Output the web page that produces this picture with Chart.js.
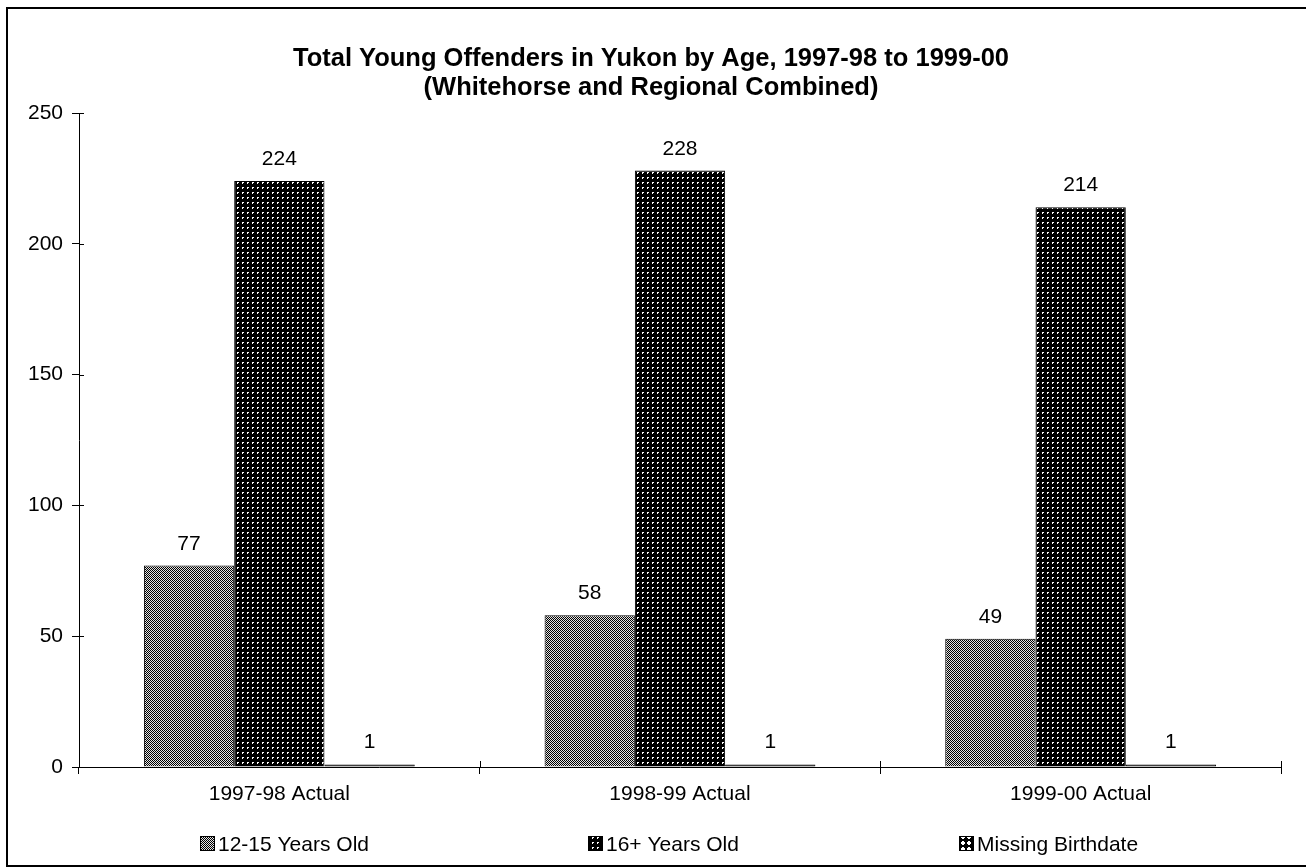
<!DOCTYPE html>
<html>
<head>
<meta charset="utf-8">
<script src="https://cdn.jsdelivr.net/npm/chart.js@4"></script>
<style>
html,body{margin:0;padding:0;background:#fff;}
canvas{display:block;}
</style>
</head>
<body>
<canvas id="c" width="1306" height="868"></canvas>
<script>
const categories = ['1997-98 Actual', '1998-99 Actual', '1999-00 Actual'];
const age12to15 = [77, 58, 49];
const age16plus = [224, 228, 214];
const missingBirthdate = [1, 1, 1];
const seriesNames = ['12-15 Years Old', '16+ Years Old', 'Missing Birthdate'];
const yTickValues = [0, 50, 100, 150, 200, 250];
const titleLines = ['Total Young Offenders in Yukon by Age, 1997-98 to 1999-00', '(Whitehorse and Regional Combined)'];

const FONT = "'Liberation Sans', Arial, sans-serif";

function makePattern(w, h, draw) {
  const c = document.createElement('canvas');
  c.width = w; c.height = h;
  const g = c.getContext('2d');
  draw(g);
  return document.getElementById('c').getContext('2d').createPattern(c, 'repeat');
}
const pat1 = makePattern(2, 2, g => {
  g.fillStyle = '#e4e4e4'; g.fillRect(0, 0, 2, 2);
  g.fillStyle = '#000'; g.fillRect(0, 0, 1, 1); g.fillRect(1, 1, 1, 1);
});
const pat2 = makePattern(5, 5, g => {
  g.fillStyle = '#000'; g.fillRect(0, 0, 5, 5);
  g.fillStyle = '#fff'; g.fillRect(2, 2, 2, 1); g.fillRect(2, 3, 1, 1);
});
const pat3 = makePattern(6, 6, g => {
  g.fillStyle = '#000'; g.fillRect(0, 0, 6, 6);
  g.fillStyle = '#fff'; g.fillRect(2, 1, 2, 4); g.fillRect(1, 2, 4, 2);
});
const legendPatterns = [pat1, pat2, pat3];
const barFills = [pat1, pat2, '#000'];

const framePlugin = {
  id: 'frame',
  afterDraw(chart) {
    const ctx = chart.ctx;
    ctx.save();
    ctx.strokeStyle = '#000';
    ctx.lineWidth = 2;
    ctx.beginPath();
    ctx.moveTo(1306, 8); ctx.lineTo(7, 8); ctx.lineTo(7, 866); ctx.lineTo(1306, 866);
    ctx.stroke();
    // title
    ctx.fillStyle = '#000';
    ctx.font = "bold 25.5px " + FONT;
    ctx.textAlign = 'center';
    ctx.textBaseline = 'alphabetic';
    const cx = 651;
    ctx.fillText(titleLines[0], cx, 66);
    ctx.fillText(titleLines[1], cx, 95);
    // data labels
    ctx.font = "21px " + FONT;
    chart.data.datasets.forEach((ds, i) => {
      const meta = chart.getDatasetMeta(i);
      meta.data.forEach((el, j) => {
        ctx.fillText(String(ds.data[j]), el.x, el.y - 16);
      });
    });
    // inward tick parts
    ctx.lineWidth = 1;
    const ys = chart.scales.y, xs = chart.scales.x;
    const step = xs.getPixelForTick(1) - xs.getPixelForTick(0);
    ctx.beginPath();
    yTickValues.forEach(v => {
      const py = Math.round(ys.getPixelForValue(v)) + 0.5;
      ctx.moveTo(chart.chartArea.left, py); ctx.lineTo(chart.chartArea.left + 5, py);
    });
    for (let k = 0; k <= categories.length; k++) {
      const px = Math.round(xs.getPixelForTick(0) - step / 2 + k * step) + 0.5;
      ctx.moveTo(px, chart.chartArea.bottom); ctx.lineTo(px, chart.chartArea.bottom - 6);
    }
    ctx.stroke();
    // legend
    const lx = [200, 588, 959];
    ctx.textAlign = 'left';
    ctx.font = "21px " + FONT;
    seriesNames.forEach((name, i) => {
      ctx.fillStyle = legendPatterns[i];
      ctx.fillRect(lx[i], 836, 15, 15);
      ctx.strokeStyle = '#000';
      ctx.strokeRect(lx[i] + 0.5, 836.5, 14, 14);
      ctx.fillStyle = '#000';
      ctx.fillText(name, lx[i] + 18, 851);
    });
    ctx.restore();
  }
};

const seriesData = [age12to15, age16plus, missingBirthdate];
new Chart(document.getElementById('c'), {
  type: 'bar',
  data: {
    labels: categories,
    datasets: seriesNames.map((n, i) => ({
      label: n,
      data: seriesData[i],
      backgroundColor: barFills[i],
      borderColor: '#000',
      borderWidth: 1,
      categoryPercentage: 0.676,
      barPercentage: 1.0
    }))
  },
  options: {
    responsive: false,
    animation: false,
    devicePixelRatio: 1,
    layout: { padding: { left: 0, right: 25, top: 113, bottom: 0 } },
    plugins: { legend: { display: false }, title: { display: false }, tooltip: { enabled: false } },
    scales: {
      x: {
        offset: true,
        grid: { display: true, drawOnChartArea: false, drawTicks: true, tickLength: 7, color: '#000', offset: true },
        border: { display: true, color: '#000', width: 1 },
        ticks: { color: '#000', font: { family: FONT, size: 21 }, padding: 8, maxRotation: 0 },
        afterFit(s) { s.height = 101; }
      },
      y: {
        min: 0, max: 250,
        afterBuildTicks(s) { s.ticks = yTickValues.map(v => ({ value: v })); },
        grid: { display: true, drawOnChartArea: false, drawTicks: true, tickLength: 7, color: '#000' },
        border: { display: true, color: '#000', width: 1 },
        ticks: { color: '#000', font: { family: FONT, size: 21 }, padding: 9 },
        afterFit(s) { s.width = 79; }
      }
    }
  },
  plugins: [framePlugin]
});
</script>
</body>
</html>
